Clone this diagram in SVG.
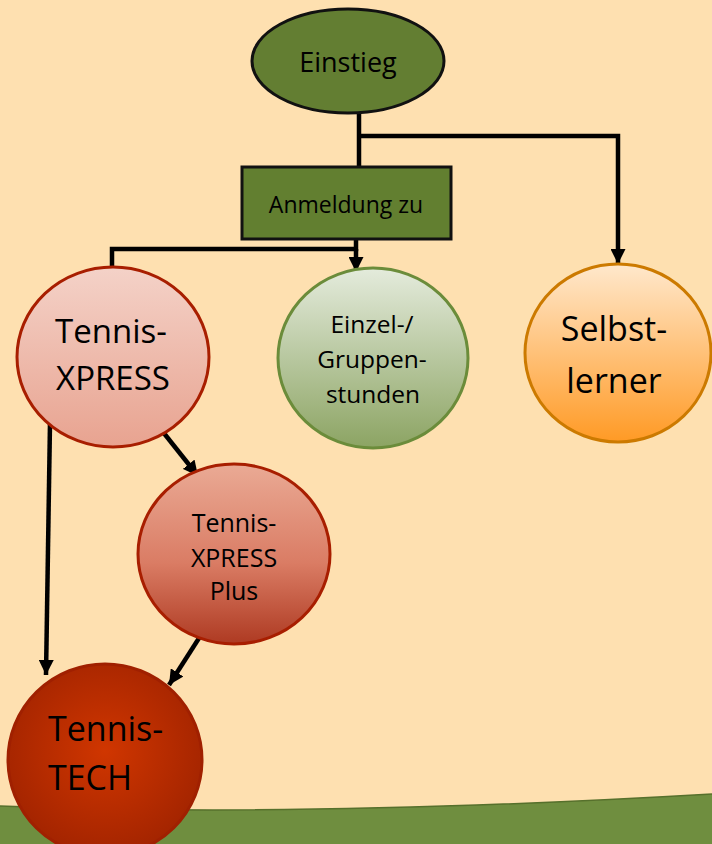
<svg xmlns="http://www.w3.org/2000/svg" width="712" height="844" viewBox="0 0 712 844">
<defs>
<linearGradient id="gXp" x1="0" y1="0" x2="0" y2="1"><stop offset="0" stop-color="#F4D2C8"/><stop offset="1" stop-color="#E8A390"/></linearGradient>
<linearGradient id="gEz" x1="0" y1="0" x2="0" y2="1"><stop offset="0" stop-color="#E4EBDC"/><stop offset="1" stop-color="#8CA463"/></linearGradient>
<linearGradient id="gSl" x1="0" y1="0" x2="0" y2="1"><stop offset="0" stop-color="#FFE8CC"/><stop offset="1" stop-color="#FF9A25"/></linearGradient>
<linearGradient id="gPl" x1="0" y1="0" x2="0" y2="1"><stop offset="0" stop-color="#EAAA95"/><stop offset="0.55" stop-color="#DA7C64"/><stop offset="1" stop-color="#AE3A22"/></linearGradient>
<radialGradient id="gTe" cx="0.5" cy="0.45" r="0.55"><stop offset="0" stop-color="#D03600"/><stop offset="1" stop-color="#A32400"/></radialGradient>
<marker id="ah" viewBox="0 0 10 10" refX="10" refY="5" markerWidth="15" markerHeight="15" markerUnits="userSpaceOnUse" orient="auto"><path d="M0,0 L10,5 L0,10 z" fill="#000"/></marker>
<style>
.t{font-family:"Open Sans","Liberation Sans",sans-serif;fill:#000;text-anchor:middle}
.c{stroke:#000;stroke-width:4.5;fill:none}
</style>
</defs>
<rect width="712" height="844" fill="#FEE0B0"/>
<path d="M0,806 Q300,818 712,794 L712,844 L0,844 Z" fill="#6F8E3F"/>
<path d="M0,806 Q300,818 712,794" fill="none" stroke="#56702C" stroke-width="1.5"/>
<g id="connectors">
<line class="c" x1="359" y1="112" x2="359" y2="168"/>
<path class="c" d="M359,136 H618 V264" marker-end="url(#ah)"/>
<path class="c" d="M356,239 V249 H112 V285" marker-end="url(#ah)"/>
<path class="c" d="M356,249 V272" marker-end="url(#ah)"/>
<path class="c" d="M50,423 L46,675" marker-end="url(#ah)"/>
<path class="c" d="M163,432 L198,476" marker-end="url(#ah)"/>
<path class="c" d="M201,635 L169,685" marker-end="url(#ah)"/>
</g>
<g id="einstieg">
<ellipse cx="348" cy="61" rx="96" ry="52" fill="#637E32" stroke="#111" stroke-width="3"/>
<text class="t" x="348" y="72" font-size="27">Einstieg</text>
</g>
<g id="anmeldung">
<rect x="242" y="167" width="209" height="72" fill="#627F30" stroke="#111" stroke-width="3"/>
<text class="t" x="346" y="213" font-size="23">Anmeldung zu</text>
</g>
<g id="tennisxpress">
<ellipse cx="113" cy="357" rx="96" ry="90" fill="url(#gXp)" stroke="#A81E00" stroke-width="3"/>
<text class="t" x="111" y="343" font-size="33">Tennis-</text>
<text class="t" x="113" y="390" font-size="33">XPRESS</text>
</g>
<g id="einzel">
<ellipse cx="373" cy="358" rx="95" ry="90" fill="url(#gEz)" stroke="#6B8C3A" stroke-width="3"/>
<text class="t" x="372" y="333" font-size="24.5">Einzel-/</text>
<text class="t" x="372" y="368" font-size="24.5">Gruppen-</text>
<text class="t" x="373" y="403" font-size="24.5">stunden</text>
</g>
<g id="selbstlerner">
<ellipse cx="618" cy="353" rx="93" ry="89" fill="url(#gSl)" stroke="#CC7A00" stroke-width="3"/>
<text class="t" x="614" y="341" font-size="34">Selbst-</text>
<text class="t" x="614" y="393" font-size="34">lerner</text>
</g>
<g id="tennisxpressplus">
<ellipse cx="234" cy="554" rx="96" ry="90" fill="url(#gPl)" stroke="#A81E00" stroke-width="3"/>
<text class="t" x="234" y="532" font-size="25">Tennis-</text>
<text class="t" x="234" y="567" font-size="25">XPRESS</text>
<text class="t" x="234" y="600" font-size="25">Plus</text>
</g>
<g id="tennistech">
<ellipse cx="105" cy="760" rx="97" ry="96" fill="url(#gTe)" stroke="#A02000" stroke-width="3"/>
<text class="t" x="48" y="741" font-size="34" style="text-anchor:start">Tennis-</text>
<text class="t" x="48" y="790" font-size="34" style="text-anchor:start">TECH</text>
</g>
</svg>
